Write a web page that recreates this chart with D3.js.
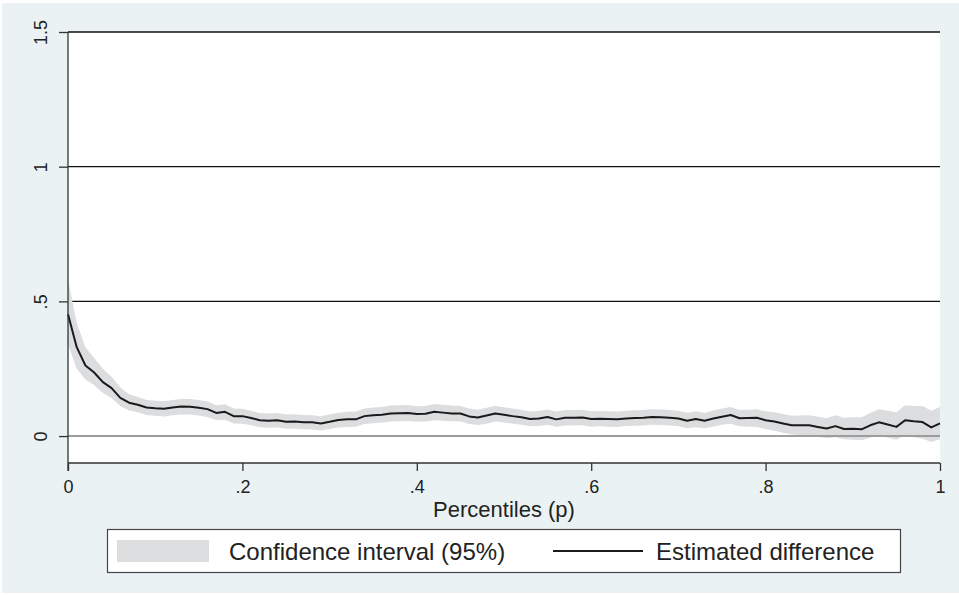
<!DOCTYPE html>
<html>
<head>
<meta charset="utf-8">
<script src="https://cdn.jsdelivr.net/npm/d3@7"></script>
<style>
  body { margin: 0; background: #fff; }
  svg { display: block; font-family: "Liberation Sans", Arial, Helvetica, sans-serif; }
</style>
</head>
<body>
<div id="chart"></div>
<script>
// percentiles 0, .01, ... 1
const percentiles = d3.range(0, 101).map(i => i / 100);

const estimate = [
  .452, .330, .262, .236, .200, .178, .142, .124, .116, .106,
  .103, .101, .106, .110, .109, .105, .100, .086, .090, .074,
  .074, .067, .059, .057, .059, .053, .054, .051, .051, .047,
  .053, .060, .062, .062, .074, .077, .079, .084, .085, .086,
  .082, .083, .090, .087, .084, .084, .073, .069, .076, .084,
  .079, .074, .070, .063, .065, .071, .062, .068, .068, .069,
  .063, .064, .063, .062, .065, .067, .068, .071, .070, .068,
  .065, .057, .063, .057, .065, .072, .078, .066, .067, .068,
  .059, .054, .047, .040, .040, .040, .034, .028, .037, .026,
  .027, .025, .040, .051, .043, .034, .059, .055, .052, .032,
  .047
];

const ciLower = [
  .340, .250, .210, .190, .160, .140, .112, .095, .088, .078,
  .075, .073, .077, .080, .080, .076, .071, .060, .061, .047,
  .046, .040, .033, .031, .032, .027, .027, .025, .024, .021,
  .026, .032, .034, .035, .045, .048, .050, .054, .055, .056,
  .053, .054, .059, .057, .055, .054, .045, .041, .046, .054,
  .050, .046, .042, .036, .037, .042, .035, .039, .039, .040,
  .035, .036, .035, .034, .037, .038, .039, .042, .041, .039,
  .036, .029, .033, .029, .035, .042, .046, .036, .035, .034,
  .026, .020, .012, .006, .004, .003, -.003, -.008, -.004, -.012,
  -.014, -.016, -.005, .002, -.006, -.014, .004, -.004, -.010, -.022,
  -.012
];

const ciUpper = [
  .580, .420, .330, .290, .250, .220, .180, .155, .145, .134,
  .131, .129, .134, .138, .138, .134, .128, .114, .118, .102,
  .101, .094, .086, .084, .086, .080, .081, .078, .077, .074,
  .080, .087, .090, .091, .102, .106, .108, .113, .114, .115,
  .111, .112, .119, .116, .113, .112, .102, .098, .105, .112,
  .107, .102, .098, .091, .093, .099, .091, .097, .097, .098,
  .092, .093, .092, .091, .094, .096, .097, .100, .099, .097,
  .094, .087, .092, .086, .095, .102, .108, .097, .098, .100,
  .092, .088, .082, .075, .076, .077, .072, .066, .077, .068,
  .070, .070, .086, .100, .094, .088, .114, .112, .112, .094,
  .108
];

const yTicks = [0, 0.5, 1, 1.5];
const yTickLabels = ['0', '.5', '1', '1.5'];
const xTicks = [0, 0.2, 0.4, 0.6, 0.8, 1];
const xTickLabels = ['0', '.2', '.4', '.6', '.8', '1'];

const W = 959, H = 595;
const margin = { t: 32, r: 19, b: 132, l: 68 };

const data = percentiles.map((p, i) => ({ p, est: estimate[i], lo: ciLower[i], hi: ciUpper[i] }));

const svg = d3.select('#chart').append('svg')
  .attr('width', W)
  .attr('height', H);

// graph region
svg.append('rect')
  .attr('x', 2).attr('y', 3)
  .attr('width', W - 2).attr('height', H - 5)
  .attr('fill', '#eaf2f3');

const x = d3.scaleLinear().domain([0, 1]).range([margin.l, W - margin.r]);
const y = d3.scaleLinear().domain([-0.1, 1.5]).range([H - margin.b, margin.t]);

// plot region
svg.append('rect')
  .attr('x', x(0)).attr('y', y(1.5))
  .attr('width', x(1) - x(0)).attr('height', y(-0.1) - y(1.5))
  .attr('fill', '#fff');

// gridlines
svg.append('g').selectAll('line')
  .data(yTicks.filter(d => d > 0))
  .join('line')
  .attr('x1', x(0)).attr('x2', x(1))
  .attr('y1', d => y(d)).attr('y2', d => y(d))
  .attr('stroke', '#111').attr('stroke-width', 1.3);

// CI band
svg.append('path')
  .datum(data)
  .attr('fill', '#dcdddf')
  .attr('d', d3.area().x(d => x(d.p)).y0(d => y(d.lo)).y1(d => y(d.hi)));

// zero line
svg.append('line')
  .attr('x1', x(0)).attr('x2', x(1))
  .attr('y1', y(0)).attr('y2', y(0))
  .attr('stroke', '#9d9d9d').attr('stroke-width', 2);

// estimate line
svg.append('path')
  .datum(data)
  .attr('fill', 'none')
  .attr('stroke', '#1a1a1a')
  .attr('stroke-width', 2)
  .attr('stroke-linejoin', 'round')
  .attr('d', d3.line().x(d => x(d.p)).y(d => y(d.est)));

// y axis
const yAxis = svg.append('g')
  .attr('transform', `translate(${x(0)},0)`)
  .call(d3.axisLeft(y).tickValues(yTicks).tickSize(9).tickPadding(0)
    .tickFormat((d, i) => yTickLabels[i]));
yAxis.select('.domain').remove();
yAxis.append('line')
  .attr('x1', 0).attr('x2', 0)
  .attr('y1', y(1.5)).attr('y2', y(-0.1) + 8)
  .attr('stroke', '#333').attr('stroke-width', 1.3);
yAxis.selectAll('.tick line').attr('stroke', '#333').attr('stroke-width', 1.3);
yAxis.selectAll('.tick text')
  .attr('x', 0).attr('dy', null)
  .attr('transform', `translate(-21,0) rotate(-90)`)
  .attr('text-anchor', 'middle')
  .attr('font-size', 18)
  .attr('fill', '#222');

// x axis
const xAxis = svg.append('g')
  .attr('transform', `translate(0,${y(-0.1)})`)
  .call(d3.axisBottom(x).tickValues(xTicks).tickSize(8).tickPadding(0)
    .tickFormat((d, i) => xTickLabels[i]));
xAxis.select('.domain').remove();
xAxis.append('line')
  .attr('x1', x(0)).attr('x2', x(1))
  .attr('stroke', '#333').attr('stroke-width', 1.3);
xAxis.selectAll('.tick line').attr('stroke', '#333').attr('stroke-width', 1.3);
xAxis.selectAll('.tick text')
  .attr('y', 30).attr('dy', null)
  .attr('font-size', 18)
  .attr('fill', '#222');

svg.append('text')
  .attr('x', (x(0) + x(1)) / 2)
  .attr('y', 517)
  .attr('text-anchor', 'middle')
  .attr('font-size', 22)
  .attr('fill', '#222')
  .text('Percentiles (p)');

// legend
const legend = svg.append('g');
legend.append('rect')
  .attr('x', 107.5).attr('y', 529.5)
  .attr('width', 793).attr('height', 43)
  .attr('fill', '#fff')
  .attr('stroke', '#444').attr('stroke-width', 1.2);
legend.append('rect')
  .attr('x', 117).attr('y', 540)
  .attr('width', 92).attr('height', 22)
  .attr('fill', '#dcdddf');
legend.append('text')
  .attr('x', 229).attr('y', 560)
  .attr('font-size', 24).attr('fill', '#222')
  .text('Confidence interval (95%)');
legend.append('line')
  .attr('x1', 553).attr('x2', 643)
  .attr('y1', 551).attr('y2', 551)
  .attr('stroke', '#1a1a1a').attr('stroke-width', 2);
legend.append('text')
  .attr('x', 656).attr('y', 560)
  .attr('font-size', 24).attr('fill', '#222')
  .text('Estimated difference');
</script>
</body>
</html>
